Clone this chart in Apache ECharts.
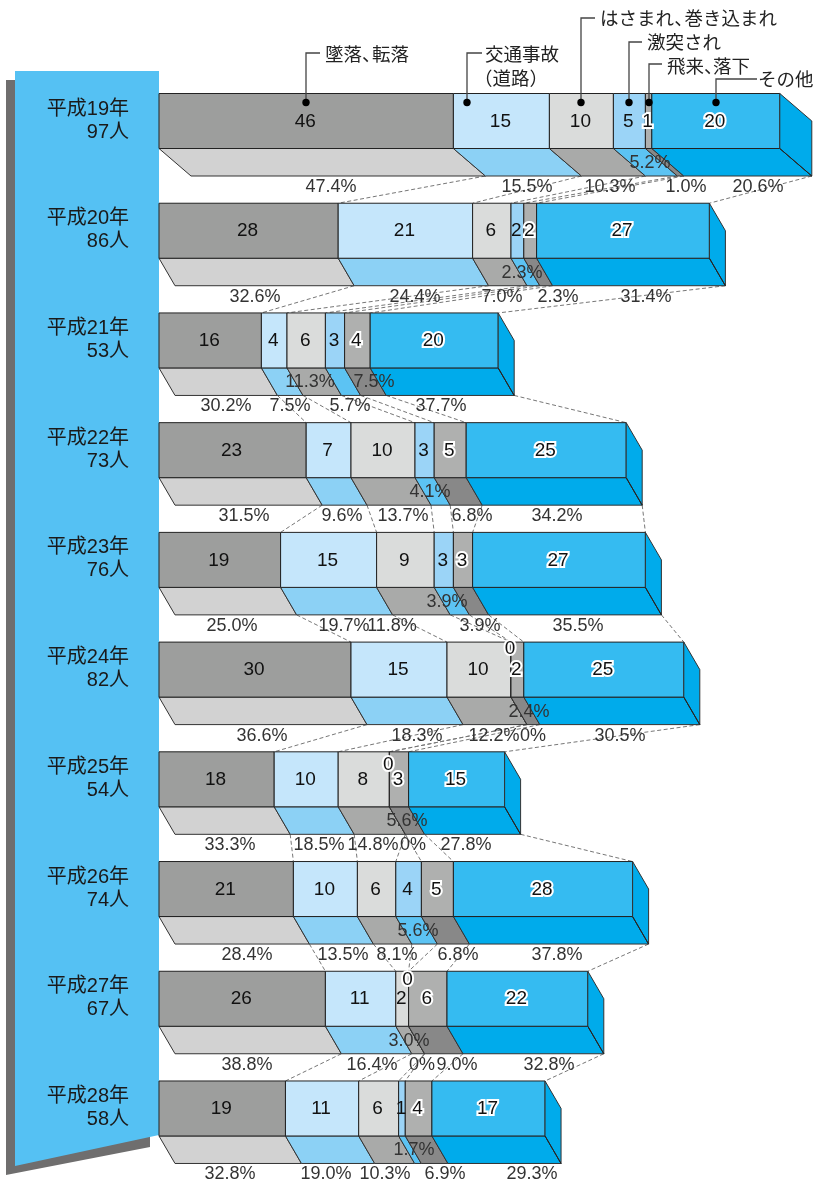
<!DOCTYPE html>
<html><head><meta charset="utf-8">
<style>html,body{margin:0;padding:0;background:#fff}#c{width:814px;height:1185px}</style>
<script src="https://cdn.jsdelivr.net/npm/echarts@6/dist/echarts.min.js"></script>
</head><body><div id="c"></div>
<script>
// ---------- data ----------
const years = ['平成19年','平成20年','平成21年','平成22年','平成23年','平成24年','平成25年','平成26年','平成27年','平成28年'];
const totals = [97,86,53,73,76,82,54,74,67,58];
const causes = ['墜落、転落','交通事故（道路）','はさまれ、巻き込まれ','激突され','飛来、落下','その他'];
const fall    = [46,28,16,23,19,30,18,21,26,19];
const traffic = [15,21, 4, 7,15,15,10,10,11,11];
const caught  = [10, 6, 6,10, 9,10, 8, 6, 2, 6];
const struck  = [ 5, 2, 3, 3, 3, 0, 0, 4, 0, 1];
const flying  = [ 1, 2, 4, 5, 3, 2, 3, 5, 6, 4];
const other   = [20,27,20,25,27,25,15,28,22,17];
const seriesValues = [fall,traffic,caught,struck,flying,other];
const pctFall    = ['47.4%','32.6%','30.2%','31.5%','25.0%','36.6%','33.3%','28.4%','38.8%','32.8%'];
const pctTraffic = ['15.5%','24.4%','7.5%','9.6%','19.7%','18.3%','18.5%','13.5%','16.4%','19.0%'];
const pctCaught  = ['10.3%','7.0%','11.3%','13.7%','11.8%','12.2%','14.8%','8.1%','3.0%','10.3%'];
const pctStruck  = ['5.2%','2.3%','5.7%','4.1%','3.9%','0%','0%','5.6%','0%','1.7%'];
const pctFlying  = ['1.0%','2.3%','7.5%','6.8%','3.9%','2.4%','5.6%','6.8%','9.0%','6.9%'];
const pctOther   = ['20.6%','31.4%','37.7%','34.2%','35.5%','30.5%','27.8%','37.8%','32.8%','29.3%'];
const pctValues = [pctFall,pctTraffic,pctCaught,pctStruck,pctFlying,pctOther];

// ---------- layout / style ----------
const FONT = '"Liberation Sans","Noto Sans CJK JP",sans-serif';
const FRONT = ['#9d9e9d','#c5e6fb','#dadcdb','#9bd4f7','#afb0af','#35bbf1'];
const FLOOR = ['#d2d2d2','#8cd1f5','#a9aaa9','#5cc3f3','#888888','#00abeb'];
const SIDE = '#00abeb', EDGE = '#222', PX_PER = 6.4;
const FRONT_H = 55, DEPTH_Y = 27.5, TOP = 93.5, BAND = 109.72, LEFT = 159;
const depthX = y => y === 0 ? 32 : 16;
// the last bar is drawn slightly wider per person in the reference
const widthScale = y => y === 9 ? 1.04 : 1;
// x of each percent label, one row per year
const pctX = [
 [331,527,610,650,686,758],[255,415,502,522,558,646],[226,290,310,350,374,441],
 [244,342,403,430,472,557],[232,344,392,447,480,578],[262,417,494,533,529,620],
 [230,319,373,413,407,466],[247,343,397,418,458,557],[247,372,409,422,457,549],
 [230,326,385,414,445,532]];
// which percent label sits on the floor face of the bar (year -> cause indices)
const onFace = {0:[3],1:[3],2:[2,4],3:[3],4:[3],5:[4],6:[4],7:[3],8:[2],9:[3]};
// zero labels lifted above the middle of the bar
const zeroLift = {5:21,6:15,8:19};

const cum = (y,k) => { let s=0; for(let i=0;i<k;i++) s+=seriesValues[i][y]; return s; };

function segRender(k){
  return function(params, api){
    const y = api.value(2), sc = widthScale(y);
    const c0 = api.coord([api.value(0)*sc, y]), c1 = api.coord([api.value(1)*sc, y]);
    const band = api.size([0,1])[1];
    const t = c0[1]-band/2, b = t+FRONT_H, d = b+DEPTH_Y, o = depthX(y);
    const x0=c0[0], x1=c1[0];
    const line={stroke:EDGE,lineWidth:1,lineJoin:'round'};
    const kids=[
      {type:'polygon',shape:{points:[[x0,b],[x1,b],[x1+o,d],[x0+o,d]]},style:Object.assign({fill:FLOOR[k]},line,{stroke:'#333'})},
      {type:'rect',shape:{x:x0,y:t,width:x1-x0,height:FRONT_H},style:Object.assign({fill:FRONT[k]},line)}
    ];
    if(k===5){
      kids.push({type:'polygon',shape:{points:[[x1,t],[x1+o,t+DEPTH_Y],[x1+o,d],[x1,b]]},style:Object.assign({fill:SIDE},line,{stroke:'#333'})});
      kids.push({type:'line',shape:{x1:x1,y1:b,x2:x1+o,y2:d},style:line});
    }
    return {type:'group',children:kids};
  };
}
const segSeries = seriesValues.map((vals,k)=>({
  type:'custom',name:causes[k],coordinateSystem:'cartesian2d',clip:false,z:2+k*0.01,silent:true,
  renderItem:segRender(k),encode:{x:[0,1],y:2},
  data:vals.map((v,y)=>[cum(y,k),cum(y,k)+v,y])
}));

// dashed connectors between a bar's back edge and the next bar's top
const connData=[];
for(let y=0;y<years.length-1;y++) for(let k=1;k<=6;k++) connData.push([cum(y,k),cum(y+1,k),y]);
const connectors={type:'custom',coordinateSystem:'cartesian2d',clip:false,z:1,silent:true,
  encode:{x:[0,1],y:2},data:connData,
  renderItem(params,api){
    const y=api.value(2), a=api.coord([api.value(0)*widthScale(y),y]), n=api.coord([api.value(1)*widthScale(y+1),y+1]);
    const band=api.size([0,1])[1];
    return {type:'line',shape:{x1:a[0]+depthX(y),y1:a[1]-band/2+FRONT_H+DEPTH_Y,x2:n[0],y2:n[1]-band/2},
      style:{stroke:'#777',lineWidth:1,lineDash:[4,2.5]}};
  }};

// count labels
const countData=[];
seriesValues.forEach((vals,k)=>vals.forEach((v,y)=>countData.push([cum(y,k)+v/2,y,v,k])));
const counts={type:'custom',coordinateSystem:'cartesian2d',clip:false,z:5,silent:true,
  encode:{x:0,y:1},data:countData,
  renderItem(params,api){
    const v=api.value(2),k=api.value(3),y=api.value(1),c=api.coord([api.value(0)*widthScale(y),y]);
    const band=api.size([0,1])[1];
    const halo=k>=4||v===0;
    const cy=c[1]-band/2+FRONT_H/2+(v===0?-zeroLift[y]:0)+0.5;
    return {type:'text',style:Object.assign({text:String(v),x:c[0]-1,y:cy,align:'center',verticalAlign:'middle',
      font:'19px '+FONT,fill:'#111'},halo?{stroke:'#fff',lineWidth:4}:{})};
  }};

// percent labels
const pctData=[];
pctValues.forEach((vals,k)=>vals.forEach((p,y)=>pctData.push([0,y,k])));
const pcts={type:'custom',coordinateSystem:'cartesian2d',clip:false,z:4,silent:true,
  encode:{x:0,y:1},data:pctData,
  renderItem(params,api){
    const y=api.value(1),k=api.value(2),c=api.coord([0,y]),band=api.size([0,1])[1];
    const t=c[1]-band/2;
    const face=onFace[y].indexOf(k)>=0;
    return {type:'text',style:{text:pctValues[k][y],x:pctX[y][k],y:t+(face?69.5:93.5),align:'center',verticalAlign:'middle',
      font:'18px '+FONT,fill:'#333'}};
  }};

// year labels
const yearLabels={type:'custom',coordinateSystem:'cartesian2d',clip:false,z:6,silent:true,
  encode:{x:0,y:1},data:years.map((n,y)=>[0,y]),
  renderItem(params,api){
    const y=api.value(1),c=api.coord([0,y]),band=api.size([0,1])[1],t=c[1]-band/2;
    const st=(text,dy)=>({type:'text',style:{text,x:129,y:t+dy,align:'right',verticalAlign:'middle',font:'20px '+FONT,fill:'#1a1a1a'}});
    return {type:'group',children:[st(years[y],15.5),st(totals[y]+'人',38.5)]};
  }};

// leaders and legend text
const lead=[[306,53,320],[467,53,482],[581,18,595],[629,42,642],[649,64,662],[716,79,757]];
const g=[];
g.push({type:'polygon',z:0,shape:{points:[[6,80],[150,80],[150,1147],[6,1175]]},style:{fill:'#6f6e6e'}});
g.push({type:'polygon',z:0,shape:{points:[[15,71],[159,71],[159,1135],[15,1166]]},style:{fill:'#55c1f3'}});
lead.forEach(l=>{
  g.push({type:'polyline',z:10,shape:{points:[[l[0],102.5],[l[0],l[1]],[l[2],l[1]]]},style:{stroke:'#444',lineWidth:1.3,fill:null}});
  g.push({type:'circle',z:10,shape:{cx:l[0],cy:102.5,r:3.7},style:{fill:'#000'}});
});
const tx=(text,x,y,align)=>g.push({type:'text',z:10,x:x,y:y,style:{text,align:align||'left',verticalAlign:'middle',font:'18.5px '+FONT,fill:'#222'}});
tx('墜落、',325,56); tx('転落',409,56,'right');
tx('交通事故',485,56); tx('（道路）',474,80);
tx('はさまれ、',600,20); tx('巻き込まれ',777,20,'right');
tx('激突され',647,44);
tx('飛来、',667,68); tx('落下',750,68,'right');
tx('その他',758,81);

const chart=echarts.init(document.getElementById('c'),null,{renderer:'canvas'});
chart.setOption({
  animation:false,backgroundColor:'#fff',
  grid:{left:LEFT,top:TOP,width:814-LEFT,height:BAND*years.length,outerBoundsMode:'none'},
  xAxis:{type:'value',min:0,max:(814-LEFT)/PX_PER,show:false},
  yAxis:{type:'category',data:years,inverse:true,show:false},
  graphic:g,
  series:[connectors,...segSeries,pcts,counts,yearLabels]
});
</script></body></html>
